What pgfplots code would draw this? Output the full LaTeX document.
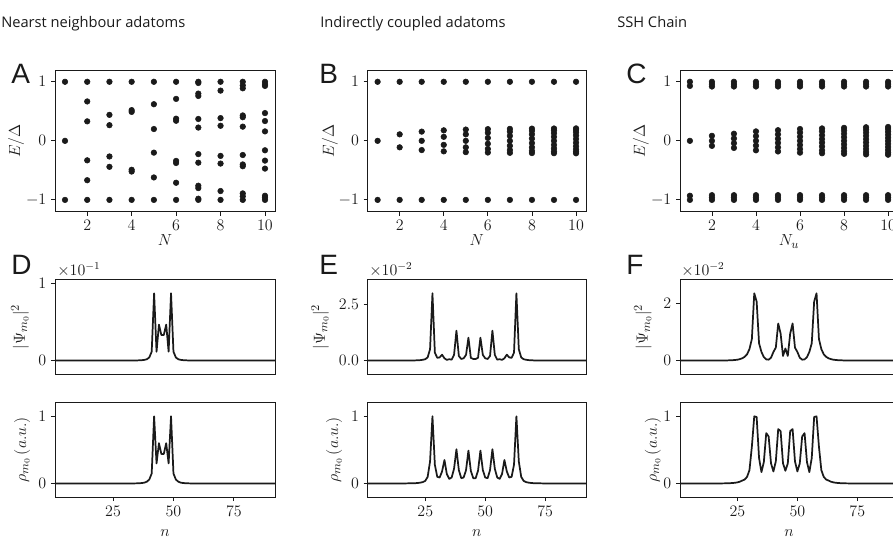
\documentclass[border=0pt]{standalone}
\usepackage{fontspec}
\usepackage{pgfplots}
\pgfplotsset{compat=1.18}
\newfontfamily\titlefont{Open Sans}
\newfontfamily\letterfont{Liberation Sans}
\definecolor{ink}{HTML}{1A1A1A}
\pgfplotsset{
  base/.style={scale only axis, axis line style={line width=0.6pt, ink},
    tick style={line width=0.6pt, ink}, tick align=outside, major tick length=3pt,
    xtick pos=bottom, ytick pos=left,
    tick label style={font=\fontsize{11.5}{13}\selectfont, text=ink},
    label style={font=\fontsize{13}{15}\selectfont, text=ink},
    scaled ticks=false, clip mode=individual},
  spec/.style={base, width=#1, height=106.3pt, xmin=0.55, xmax=10.45, ymin=-1.2, ymax=1.2,
    xtick={2,4,6,8,10}, ytick={-1,0,1}, ylabel={$E/\Delta$},
    xlabel style={at={(axis description cs:0.5,-0.24)}, anchor=base}},
  prof/.style={base, width=#1, height=70.6pt, xmin=1, xmax=92},
  dots/.style={only marks, mark=*, mark size=2.1pt, color=ink, mark options={draw=ink, fill=ink}},
  curve/.style={line width=1.3pt, color=ink, no marks, line join=round},
}
\begin{document}
\begin{tikzpicture}[x=0.75pt, y=-0.75pt]
\useasboundingbox (0,0) rectangle (893,539);
\clip (0,0) rectangle (893,539);

% titles and letters
\node[anchor=base west, inner sep=0, font=\titlefont\fontsize{11}{13}\selectfont, text=ink] at (1,27) {Nearst neighbour adatoms};
\node[anchor=base west, inner sep=0, font=\titlefont\fontsize{11}{13}\selectfont, text=ink] at (320,27) {Indirectly coupled adatoms};
\node[anchor=base west, inner sep=0, font=\titlefont\fontsize{11}{13}\selectfont, text=ink] at (617,27) {SSH Chain};
\foreach \l/\x/\y in {A/11/83, B/319/83, C/626/83, D/11/274, E/319/274, F/626/274}
  \node[anchor=base west, inner sep=0, font=\letterfont\fontsize{21}{24}\selectfont, text=ink] at (\x,\y) {\l};
\foreach \x/\e in {57/1, 369/2, 681/2}
  \node[anchor=base west, inner sep=0, font=\fontsize{11.5}{13}\selectfont, text=ink] at (\x,275) {$\times10^{-\e}$};

% ---------- A ----------
\begin{axis}[spec=165pt, at={(41.25pt,-158.775pt)}, anchor=south west, xlabel={$N$},
  ylabel style={at={(axis description cs:-0.177,0.5)}, anchor=center}]
\addplot[dots] coordinates {
(1,1)(1,0)(1,-1)
(2,1)(2,0.667)(2,0.33)(2,-0.33)(2,-0.667)(2,-1)
(3,1)(3,0.44)(3,0.265)(3,-0.265)(3,-0.44)(3,-1)
(4,1)(4,0.52)(4,0.49)(4,-0.49)(4,-0.52)(4,-1)
(5,1)(5,0.62)(5,0.2)(5,-0.2)(5,-0.62)(5,-1)
(6,1)(6,0.71)(6,0.375)(6,0.34)(6,-0.34)(6,-0.375)(6,-0.71)(6,-1)
(7,1)(7,0.98)(7,0.8)(7,0.76)(7,0.37)(7,0.225)(7,-0.225)(7,-0.37)(7,-0.76)(7,-0.8)(7,-0.98)(7,-1)
(8,1)(8,0.85)(8,0.385)(8,0.255)(8,-0.255)(8,-0.385)(8,-0.85)(8,-1)
(9,1)(9,0.94)(9,0.89)(9,0.43)(9,0.4)(9,0.24)(9,-0.24)(9,-0.4)(9,-0.43)(9,-0.89)(9,-0.94)(9,-1)
(10,1)(10,0.96)(10,0.93)(10,0.47)(10,0.335)(10,0.16)(10,-0.16)(10,-0.335)(10,-0.47)(10,-0.93)(10,-0.96)(10,-1)
};
\end{axis}

% ---------- B ----------
\begin{axis}[spec=163.7pt, at={(275.775pt,-158.775pt)}, anchor=south west, xlabel={$N$},
  ylabel style={at={(axis description cs:-0.173,0.5)}, anchor=center}]
\addplot[dots] coordinates {
(1,1)(1,0)(1,-1)
(2,1)(2,0.11)(2,-0.11)(2,-1)
(3,1)(3,0.156)(3,0)(3,-0.156)(3,-1)
(4,1)(4,0.178)(4,0.068)(4,-0.068)(4,-0.178)(4,-1)
(5,1)(5,0.191)(5,0.11)(5,0)(5,-0.11)(5,-0.191)(5,-1)
(6,1)(6,0.198)(6,0.137)(6,0.049)(6,-0.049)(6,-0.137)(6,-0.198)(6,-1)
(7,1)(7,0.203)(7,0.156)(7,0.084)(7,0)(7,-0.084)(7,-0.156)(7,-0.203)(7,-1)
(8,1)(8,0.207)(8,0.169)(8,0.11)(8,0.038)(8,-0.038)(8,-0.11)(8,-0.169)(8,-0.207)(8,-1)
(9,1)(9,0.209)(9,0.178)(9,0.129)(9,0.068)(9,0)(9,-0.068)(9,-0.129)(9,-0.178)(9,-0.209)(9,-1)
(10,1)(10,0.211)(10,0.185)(10,0.144)(10,0.091)(10,0.031)(10,-0.031)(10,-0.091)(10,-0.144)(10,-0.185)(10,-0.211)(10,-1)
};
\end{axis}

% ---------- C ----------
\begin{axis}[spec=163.5pt, at={(510pt,-158.775pt)}, anchor=south west, xlabel={$N_u$},
  ylabel style={at={(axis description cs:-0.179,0.5)}, anchor=center}]
\addplot[dots] coordinates {
(1,1)(1,0.93)(1,0)(1,-0.93)(1,-1)
(2,1)(2,0.96)(2,0.92)(2,0.085)(2,0)(2,-0.085)(2,-0.92)(2,-0.96)(2,-1)
(3,1)(3,0.96)(3,0.92)(3,0.12)(3,0.04)(3,-0.04)(3,-0.12)(3,-0.92)(3,-0.96)(3,-1)
(4,1)(4,0.96)(4,0.92)(4,0.16)(4,0.08)(4,0)(4,-0.08)(4,-0.16)(4,-0.92)(4,-0.96)(4,-1)
(5,1)(5,0.96)(5,0.92)(5,0.18)(5,0.11)(5,0.035)(5,-0.035)(5,-0.11)(5,-0.18)(5,-0.92)(5,-0.96)(5,-1)
(6,1)(6,0.96)(6,0.92)(6,0.2)(6,0.14)(6,0.07)(6,0)(6,-0.07)(6,-0.14)(6,-0.2)(6,-0.92)(6,-0.96)(6,-1)
(7,1)(7,0.96)(7,0.92)(7,0.21)(7,0.16)(7,0.095)(7,0.03)(7,-0.03)(7,-0.095)(7,-0.16)(7,-0.21)(7,-0.92)(7,-0.96)(7,-1)
(8,1)(8,0.96)(8,0.92)(8,0.22)(8,0.175)(8,0.12)(8,0.06)(8,0)(8,-0.06)(8,-0.12)(8,-0.175)(8,-0.22)(8,-0.92)(8,-0.96)(8,-1)
(9,1)(9,0.96)(9,0.92)(9,0.23)(9,0.19)(9,0.14)(9,0.085)(9,0.028)(9,-0.028)(9,-0.085)(9,-0.14)(9,-0.19)(9,-0.23)(9,-0.92)(9,-0.96)(9,-1)
(10,1)(10,0.96)(10,0.92)(10,0.235)(10,0.2)(10,0.155)(10,0.105)(10,0.052)(10,0)(10,-0.052)(10,-0.105)(10,-0.155)(10,-0.2)(10,-0.235)(10,-0.92)(10,-0.96)(10,-1)
};
\end{axis}

% ---------- D top ----------
\begin{axis}[prof=165pt, at={(41.25pt,-280.5pt)}, anchor=south west, ymin=-0.174, ymax=1.044,
  xtick=\empty, ytick={0,1}, ylabel={$|\Psi_{m_0}|^2$},
  ylabel style={at={(axis description cs:-0.159,0.5)}, anchor=center}]
\addplot[curve] coordinates {(1,0)(25,0.0003)(30,0.0006)(33,0.001)(35,0.002)(36,0.003)(37,0.005)(38,0.009)(39,0.017)(40,0.04)(41,0.115)(42,0.87)(43,0.115)(44,0.465)(45,0.33)(46,0.33)(47,0.465)(48,0.115)(49,0.87)(50,0.115)(51,0.04)(52,0.017)(53,0.009)(54,0.005)(55,0.003)(56,0.002)(58,0.001)(61,0.0006)(66,0.0003)(92,0)};
\end{axis}

% ---------- D bottom ----------
\begin{axis}[prof=165pt, at={(41.25pt,-372.75pt)}, anchor=south west, ymin=-0.2, ymax=1.2,
  xtick={25,50,75}, ytick={0,1}, xlabel={$n$}, ylabel={$\rho_{m_0}\,(a.u.)$},
  xlabel style={at={(axis description cs:0.5,-0.42)}, anchor=base},
  ylabel style={at={(axis description cs:-0.15,0.5)}, anchor=center}]
\addplot[curve] coordinates {(1,0)(25,0.0004)(30,0.001)(33,0.002)(35,0.003)(36,0.005)(37,0.008)(38,0.014)(39,0.028)(40,0.06)(41,0.15)(42,1.0)(43,0.3)(44,0.6)(45,0.44)(46,0.44)(47,0.6)(48,0.3)(49,1.0)(50,0.15)(51,0.06)(52,0.028)(53,0.014)(54,0.008)(55,0.005)(56,0.003)(58,0.002)(61,0.001)(66,0.0004)(92,0)};
\end{axis}

% ---------- E top ----------
\begin{axis}[prof=163.7pt, at={(275.775pt,-280.5pt)}, anchor=south west, ymin=-0.594, ymax=3.564,
  xtick=\empty, ytick={0,2.5}, yticklabels={$0.0$,$2.5$}, ylabel={$|\Psi_{m_0}|^2$},
  ylabel style={at={(axis description cs:-0.218,0.5)}, anchor=center}]
\addplot[curve] coordinates {(1,0)(10,0.0008)(15,0.002)(20,0.005)(21,0.008)(22,0.012)(23,0.02)(24,0.035)(25,0.06)(26,0.14)(27,0.5)(28,2.97)(29,0.35)(30,0.12)(31,0.14)(32,0.26)(33,0.1)(34,0.03)(35,0.06)(36,0.04)(37,0.25)(38,1.32)(39,0.2)(40,0.07)(41,0.1)(42,0.25)(43,1.01)(44,0.12)(45,0.07)(46,0.07)(47,0.12)(48,1.01)(49,0.25)(50,0.1)(51,0.07)(52,0.2)(53,1.32)(54,0.25)(55,0.04)(56,0.06)(57,0.03)(58,0.1)(59,0.26)(60,0.14)(61,0.12)(62,0.35)(63,2.97)(64,0.5)(65,0.14)(66,0.06)(67,0.035)(68,0.02)(69,0.012)(70,0.008)(71,0.005)(76,0.002)(81,0.0008)(92,0)};
\end{axis}

% ---------- E bottom ----------
\begin{axis}[prof=163.7pt, at={(275.775pt,-372.75pt)}, anchor=south west, ymin=-0.2, ymax=1.2,
  xtick={25,50,75}, ytick={0,1}, xlabel={$n$}, ylabel={$\rho_{m_0}\,(a.u.)$},
  xlabel style={at={(axis description cs:0.5,-0.42)}, anchor=base},
  ylabel style={at={(axis description cs:-0.154,0.5)}, anchor=center}]
\addplot[curve] coordinates {(1,0)(10,0.0006)(15,0.0015)(20,0.004)(21,0.006)(22,0.009)(23,0.014)(24,0.022)(25,0.04)(26,0.1)(27,0.33)(28,1.0)(29,0.28)(30,0.1)(31,0.09)(32,0.18)(33,0.35)(34,0.14)(35,0.07)(36,0.09)(37,0.22)(38,0.51)(39,0.2)(40,0.08)(41,0.09)(42,0.2)(43,0.49)(44,0.19)(45,0.08)(46,0.08)(47,0.19)(48,0.49)(49,0.2)(50,0.09)(51,0.08)(52,0.2)(53,0.51)(54,0.22)(55,0.09)(56,0.07)(57,0.14)(58,0.35)(59,0.18)(60,0.09)(61,0.1)(62,0.28)(63,1.0)(64,0.33)(65,0.1)(66,0.04)(67,0.022)(68,0.014)(69,0.009)(70,0.006)(71,0.004)(76,0.0015)(81,0.0006)(92,0)};
\end{axis}

% ---------- F top ----------
\begin{axis}[prof=163.5pt, at={(510pt,-280.5pt)}, anchor=south west, ymin=-0.468, ymax=2.808,
  xtick=\empty, ytick={0,2}, ylabel={$|\Psi_{m_0}|^2$},
  ylabel style={at={(axis description cs:-0.17,0.5)}, anchor=center}]
\addplot[curve] coordinates {(1,0)(10,0.0007)(15,0.0018)(20,0.004)(21,0.006)(22,0.009)(23,0.013)(24,0.02)(25,0.03)(26,0.05)(27,0.08)(28,0.13)(29,0.22)(30,0.4)(31,0.75)(32,2.34)(33,2.05)(34,0.6)(35,0.3)(36,0.12)(37,0.04)(38,0.03)(39,0.1)(40,0.3)(41,0.45)(42,1.29)(43,0.94)(44,0.16)(45,0.42)(46,0.16)(47,0.94)(48,1.29)(49,0.45)(50,0.3)(51,0.1)(52,0.03)(53,0.04)(54,0.12)(55,0.3)(56,0.6)(57,2.05)(58,2.34)(59,0.75)(60,0.4)(61,0.22)(62,0.13)(63,0.08)(64,0.05)(65,0.03)(66,0.02)(67,0.013)(68,0.009)(69,0.006)(70,0.004)(75,0.0018)(80,0.0007)(92,0)};
\end{axis}

% ---------- F bottom ----------
\begin{axis}[prof=163.5pt, at={(510pt,-372.75pt)}, anchor=south west, ymin=-0.2, ymax=1.2,
  xtick={25,50,75}, ytick={0,1}, xlabel={$n$}, ylabel={$\rho_{m_0}\,(a.u.)$},
  xlabel style={at={(axis description cs:0.5,-0.42)}, anchor=base},
  ylabel style={at={(axis description cs:-0.125,0.5)}, anchor=center}]
\addplot[curve] coordinates {(1,0)(10,0.0005)(15,0.0012)(20,0.003)(21,0.004)(22,0.006)(23,0.008)(24,0.012)(25,0.018)(26,0.028)(27,0.045)(28,0.06)(29,0.1)(30,0.2)(31,0.55)(32,1.0)(33,0.99)(34,0.38)(35,0.17)(36,0.32)(37,0.75)(38,0.7)(39,0.3)(40,0.18)(41,0.33)(42,0.81)(43,0.78)(44,0.3)(45,0.19)(46,0.3)(47,0.78)(48,0.81)(49,0.33)(50,0.18)(51,0.3)(52,0.7)(53,0.75)(54,0.32)(55,0.17)(56,0.38)(57,0.99)(58,1.0)(59,0.55)(60,0.2)(61,0.1)(62,0.06)(63,0.045)(64,0.028)(65,0.018)(66,0.012)(67,0.008)(68,0.006)(69,0.004)(70,0.003)(75,0.0012)(80,0.0005)(92,0)};
\end{axis}
\end{tikzpicture}
\end{document}
